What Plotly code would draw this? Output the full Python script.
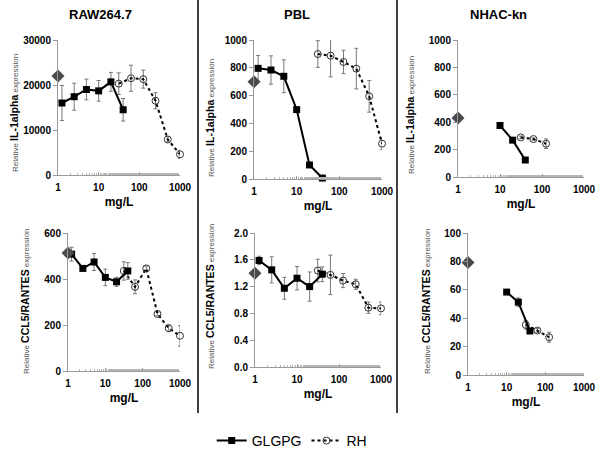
import plotly.graph_objects as go

# ---------------- data ----------------
glgpg_doses = [1.25, 2.5, 5, 10, 20, 40]
rh_doses = [31.25, 62.5, 125, 250, 500, 1000]
nhac_glgpg_doses = [10, 20, 40]
nhac_rh_doses = [31.25, 62.5, 125]

raw_il_ctrl = 22000
raw_il_g = [16000, 17400, 19000, 18700, 20700, 14500]
raw_il_g_err = [3900, 3000, 2300, 2300, 2100, 2500]
raw_il_r = [20300, 21500, 21300, 16500, 7900, 4600]
raw_il_r_err = [2400, 2900, 2000, 1800, 600, 900]

pbl_il_ctrl = 700
pbl_il_g = [796, 784, 739, 499, 101, 7]
pbl_il_g_err = [93, 102, 118, 12, 8, 5]
pbl_il_r = [899, 887, 842, 794, 595, 254]
pbl_il_r_err = [96, 152, 84, 146, 114, 42]

nhac_il_ctrl = 430
nhac_il_g = [376, 269, 124]
nhac_il_g_err = [18, 15, 8]
nhac_il_r = [289, 277, 243]
nhac_il_r_err = [10, 8, 35]

raw_cc_ctrl = 513
raw_cc_g = [508, 446, 474, 407, 388, 435]
raw_cc_g_err = [30, 10, 37, 36, 20, 36]
raw_cc_r = [435, 366, 446, 248, 186, 153]
raw_cc_r_err = [40, 30, 10, 8, 14, 45]

pbl_cc_ctrl = 1.40
pbl_cc_g = [1.59, 1.45, 1.175, 1.325, 1.2, 1.385]
pbl_cc_g_err = [0.063, 0.195, 0.163, 0.175, 0.218, 0.11]
pbl_cc_r = [1.44, 1.375, 1.29, 1.235, 0.885, 0.875]
pbl_cc_r_err = [0.168, 0.295, 0.105, 0.075, 0.085, 0.095]

nhac_cc_ctrl = 79.3
nhac_cc_g = [58.4, 51.3, 31]
nhac_cc_g_err = [1.5, 3, 1.5]
nhac_cc_r = [35.3, 31.3, 26.6]
nhac_cc_r_err = [3, 1.5, 3.5]

titles = ["RAW264.7", "PBL", "NHAC-kn"]
y_titles = ["IL-1alpha", "CCL5/RANTES"]
x_ticks = [1, 10, 100, 1000]
y_ticks = [
    [0, 10000, 20000, 30000],
    [0, 200, 400, 600, 800, 1000],
    [0, 200, 400, 600, 800, 1000],
    [0, 200, 400, 600],
    [0.0, 0.4, 0.8, 1.2, 1.6, 2.0],
    [0, 20, 40, 60, 80, 100],
]

W, H = 600, 455
# plot areas in px: (x0, x1, ytop, ybottom)
boxes = [(58, 180, 40, 175), (254, 382, 40, 179), (458, 584, 40, 177),
         (68, 180, 233, 371), (255, 381, 233, 367), (468, 584, 233, 375)]

panels = [
    (glgpg_doses, raw_il_g, raw_il_g_err, rh_doses, raw_il_r, raw_il_r_err, raw_il_ctrl),
    (glgpg_doses, pbl_il_g, pbl_il_g_err, rh_doses, pbl_il_r, pbl_il_r_err, pbl_il_ctrl),
    (nhac_glgpg_doses, nhac_il_g, nhac_il_g_err, nhac_rh_doses, nhac_il_r, nhac_il_r_err, nhac_il_ctrl),
    (glgpg_doses, raw_cc_g, raw_cc_g_err, rh_doses, raw_cc_r, raw_cc_r_err, raw_cc_ctrl),
    (glgpg_doses, pbl_cc_g, pbl_cc_g_err, rh_doses, pbl_cc_r, pbl_cc_r_err, pbl_cc_ctrl),
    (nhac_glgpg_doses, nhac_cc_g, nhac_cc_g_err, nhac_rh_doses, nhac_cc_r, nhac_cc_r_err, nhac_cc_ctrl),
]

fig = go.Figure()
errcol = "#777777"
font = "Arial, Liberation Sans, sans-serif"
axcol = "#999999"

for i, (gx, gy, ge, rx, ry, re, ctrl) in enumerate(panels):
    ax = "" if i == 0 else str(i + 1)
    xref, yref = "x" + ax, "y" + ax
    fig.add_trace(go.Scatter(
        x=rx, y=ry, mode="lines+markers", name="RH", showlegend=(i == 0),
        line=dict(color="black", width=2, dash="dot"),
        marker=dict(symbol="circle-open", size=7, color="#333333", line=dict(width=1)),
        error_y=dict(type="data", array=re, color=errcol, thickness=1, width=2),
        xaxis=xref, yaxis=yref, cliponaxis=False))
    fig.add_trace(go.Scatter(
        x=gx, y=gy, mode="lines+markers", name="GLGPG", showlegend=(i == 0),
        line=dict(color="black", width=2),
        marker=dict(symbol="square", size=7, color="black"),
        error_y=dict(type="data", array=ge, color=errcol, thickness=1, width=2),
        xaxis=xref, yaxis=yref, cliponaxis=False))
    fig.add_trace(go.Scatter(
        x=[1], y=[ctrl], mode="markers", showlegend=False,
        marker=dict(symbol="diamond", size=10, color="#4a4a4a"),
        xaxis=xref, yaxis=yref, cliponaxis=False))

    x0, x1, yt, yb = boxes[i]
    tickfont = dict(family=font, size=10, color="black")
    yt_vals = y_ticks[i]
    yt_text = ["<b>%s</b>" % (("%.1f" % v) if i == 4 else ("%d" % v)) for v in yt_vals]
    fig.update_layout(**{
        "xaxis" + ax: dict(
            type="log", range=[0, 3], domain=[x0 / W, x1 / W], anchor=yref, automargin=False,
            tickvals=x_ticks, ticktext=["<b>%d</b>" % v for v in x_ticks],
            showgrid=False, zeroline=False, showline=True, linecolor=axcol, linewidth=1,
            ticks="inside", ticklen=3, tickcolor=axcol, tickfont=tickfont, ticklabelstandoff=3,
            minor=dict(ticks="inside", ticklen=2, tickcolor="#b5b5b5", showgrid=False),
            title=dict(text="<b>mg/L</b>", font=dict(family=font, size=12, color="black"), standoff=5)),
        "yaxis" + ax: dict(
            range=[yt_vals[0], yt_vals[-1]], domain=[1 - yb / H, 1 - yt / H], anchor=xref,
            automargin=False, tickvals=yt_vals, ticktext=yt_text,
            showgrid=False, zeroline=False, showline=True, linecolor=axcol, linewidth=1,
            ticks="outside", ticklen=4, tickcolor=axcol, tickfont=tickfont),
    })

# panel titles
title_x = [100, 297, 498]
for t, tx in zip(titles, title_x):
    fig.add_annotation(x=tx / W, y=1 - 15 / H, xref="paper", yref="paper", text="<b>" + t + "</b>",
                       xanchor="center", yanchor="middle",
                       showarrow=False, font=dict(family=font, size=13, color="black"))

# y-axis titles
ytitle_pos = [(14, 113), (210, 118), (410, 115), (25, 301), (210, 296), (426, 301)]
for i, (px, py) in enumerate(ytitle_pos):
    name = y_titles[0] if i < 3 else y_titles[1]
    txt = ("<span style='font-size:8px;color:#555555'>Relative </span>"
           "<b>" + name + "</b>"
           "<span style='font-size:8px;color:#555555'> expression</span>")
    fig.add_annotation(x=px / W, y=1 - py / H, xref="paper", yref="paper", text=txt,
                       xanchor="center", yanchor="middle",
                       textangle=-90, showarrow=False,
                       font=dict(family=font, size=10.5, color="black"))

# separators
for sx in [198, 397]:
    fig.add_shape(type="line", xref="paper", yref="paper", x0=sx / W, x1=sx / W,
                  y0=1 - 413 / H, y1=1, line=dict(color="black", width=1.5))

fig.update_layout(
    template="none",
    width=W, height=H, margin=dict(l=0, r=0, t=0, b=0, autoexpand=False),
    paper_bgcolor="white", plot_bgcolor="white",
    showlegend=True,
    legend=dict(orientation="h", x=0.487, xanchor="center", y=1 - 441 / H, yanchor="middle",
                font=dict(family=font, size=14, color="black"), traceorder="reversed",
                itemwidth=30, bgcolor="rgba(0,0,0,0)"),
)

fig.write_html("out.html", config={"displayModeBar": False},
               post_script="document.body.style.margin='0';document.body.style.overflow='hidden';")
